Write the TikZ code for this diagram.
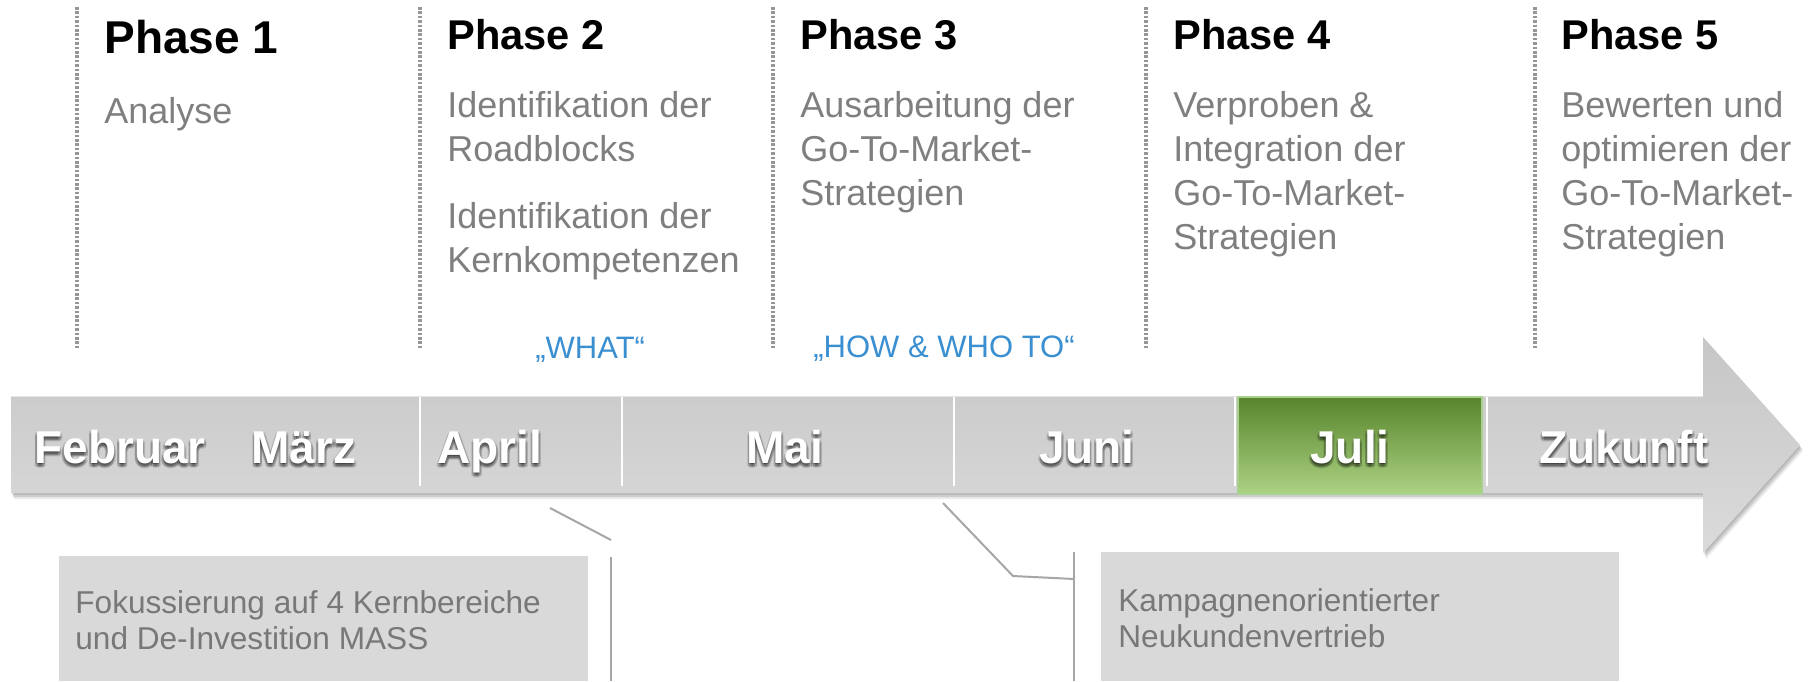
\documentclass[tikz,border=0pt]{standalone}
\usepackage{fontspec}
\setmainfont{Liberation Sans}
\usetikzlibrary{calc}
\definecolor{descgray}{RGB}{127,127,127}
\definecolor{dotgray}{RGB}{150,150,150}
\definecolor{bluetxt}{RGB}{58,143,209}
\definecolor{linegray}{RGB}{166,166,166}
\definecolor{boxgray}{RGB}{217,217,217}
\definecolor{boxtext}{RGB}{120,120,120}
\definecolor{arrtop}{RGB}{198,198,198}
\definecolor{arrbot}{RGB}{219,219,219}
\definecolor{julitop}{RGB}{88,133,44}
\definecolor{julibot}{RGB}{172,210,132}
\definecolor{juliborder}{RGB}{169,209,142}
\tikzset{
  phasehead/.style={anchor=base west, inner sep=0pt, text=black, font=\bfseries\fontsize{20.8}{25}\selectfont},
  desc/.style={anchor=north west, inner sep=0pt, align=left, text=descgray, font=\fontsize{18}{22}\selectfont},
  phasesep/.style={draw=dotgray, line width=1.6pt, dash pattern=on 1.3pt off 0.9pt},
  bluetext/.style={anchor=base west, inner sep=0pt, text=bluetxt, font=\fontsize{15.5}{18}\selectfont},
  monthtext/.style={anchor=base, inner sep=0pt, text=white, font=\bfseries\fontsize{23}{27}\selectfont},
  monthshadow/.style={monthtext, text=black, opacity=0.11, text opacity=0.11},
  monthsep/.style={draw=white, line width=1pt},
  callout/.style={draw=linegray, line width=1pt},
  notebox/.style={fill=boxgray, inner sep=0pt, anchor=north west},
  notetext/.style={anchor=north west, inner sep=0pt, align=left, text=boxtext, font=\fontsize{15.8}{18}\selectfont},
  arrowshape/.style={insert path={(11,396) -- (1703,396) -- (1703,337) -- (1800,445) -- (1703,553) -- (1703,493) -- (11,493) -- cycle}},
}
\newcommand{\monthlabel}[3]{%
  \foreach \ddx/\ddy [count=\k] in {0/1.5, 2/3, -2/3, 0/5, 1.6/1.6, -1.6/1.6, 1.6/4.4, -1.6/4.4, 0/3}{
    \node[monthshadow] (#1-sh\k) at (#2+\ddx,463+\ddy) {#3};
  }
  \node[monthtext] (#1) at (#2,463) {#3};
}
\begin{document}
\begin{tikzpicture}[x=0.5pt,y=-0.5pt]
\useasboundingbox (0,0) rectangle (1810,681);

% arrow shadow
\path[fill=black, fill opacity=0.10, shift={(1,2)}, arrowshape];
\path[fill=black, fill opacity=0.12, shift={(2,4)}, arrowshape];
\path[fill=black, fill opacity=0.08, shift={(3,6)}, arrowshape];
% arrow
\path[top color=arrtop, bottom color=arrbot, arrowshape];
\draw[white, opacity=0.5, line width=0.6pt] (11,396.5) -- (1703,396.5);

% Juli highlight
\path[top color=julitop, bottom color=julibot, draw=juliborder, line width=1pt] (1238,397) rectangle (1482,494);

% month separators
\foreach \sx in {420,622,954,1235,1487}{
  \draw[monthsep] (\sx,397) -- (\sx,486);
}

% month labels
\monthlabel{feb}{120}{Februar}
\monthlabel{mar}{304}{März}
\monthlabel{apr}{490}{April}
\monthlabel{mai}{785}{Mai}
\monthlabel{jun}{1087}{Juni}
\monthlabel{jul}{1350}{Juli}
\monthlabel{zuk}{1624}{Zukunft}

% phase separators
\foreach \sx in {77,420,773,1146,1535}{
  \draw[phasesep] (\sx,7) -- (\sx,350);
}

% phase headings
\node[phasehead, font=\bfseries\fontsize{23}{27}\selectfont] (p1) at (104,53) {Phase 1};
\node[phasehead] (p2) at (447,49) {Phase 2};
\node[phasehead] (p3) at (800,49) {Phase 3};
\node[phasehead] (p4) at (1173,49) {Phase 4};
\node[phasehead] (p5) at (1561,49) {Phase 5};

% descriptions
\node[desc] (d1) at (104,92) {\strut Analyse};
\node[desc] (d2) at (447,86.2) {\strut Identifikation der\\Roadblocks\\[11.5pt]Identifikation der\\Kernkompetenzen};
\node[desc] (d3) at (800,86.2) {\strut Ausarbeitung der\\Go-To-Market-\\Strategien};
\node[desc] (d4) at (1173,86.2) {\strut Verproben \&\\Integration der\\Go-To-Market-\\Strategien};
\node[desc] (d5) at (1561,86.2) {\strut Bewerten und\\optimieren der\\Go-To-Market-\\Strategien};

% blue labels
\node[bluetext] (what) at (535,358) {„WHAT“};
\node[bluetext] (how) at (813,357) {„HOW \& WHO TO“};

% note boxes
\node[notebox, minimum width=264.5pt, minimum height=62.5pt] (box1) at (59,556) {};
\node[notebox, minimum width=259pt, minimum height=64.5pt] (box2) at (1101,552) {};
\node[notetext] (t1) at (75,587.8) {\strut Fokussierung auf 4 Kernbereiche\\und De-Investition MASS};
\node[notetext] (t2) at (1118,585.8) {\strut Kampagnenorientierter\\Neukundenvertrieb};

% callout lines
\coordinate (c1a) at (550,508);
\coordinate (c1b) at (611,540);
\coordinate (c1c) at (611,557);
\coordinate (c1d) at (611,681);
\draw[callout] (c1a) -- (c1b);
\draw[callout] (c1c) -- (c1d);
\coordinate (c2a) at (943,503);
\coordinate (c2b) at (1013,576);
\coordinate (c2c) at (1074,579);
\coordinate (c2d) at (1074,552);
\coordinate (c2e) at (1074,681);
\draw[callout] (c2a) -- (c2b) -- (c2c);
\draw[callout] (c2d) -- (c2e);
\end{tikzpicture}
\end{document}
